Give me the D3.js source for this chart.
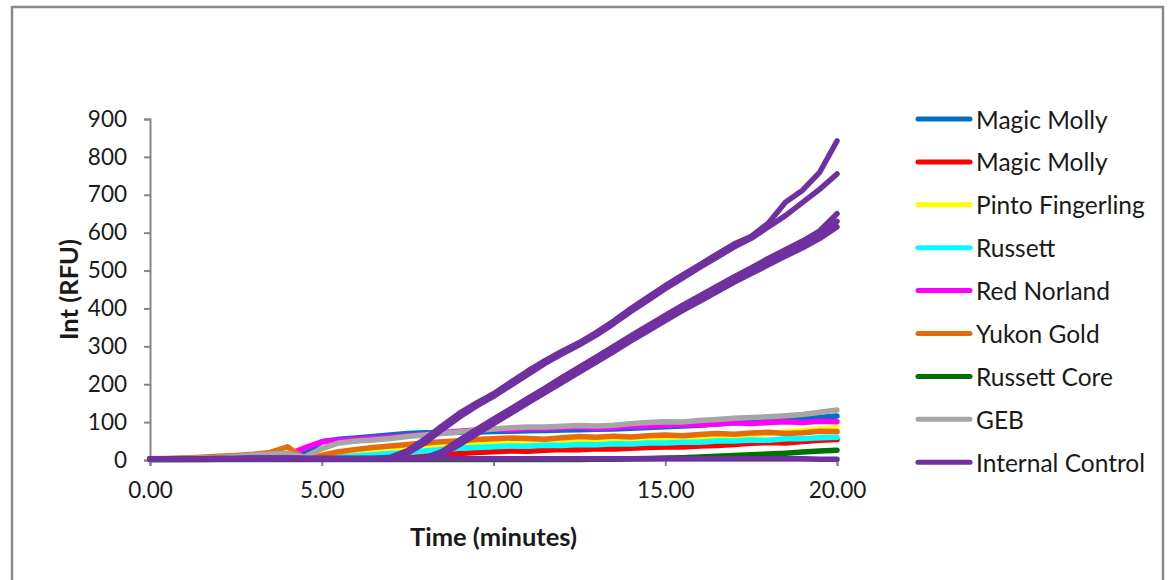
<!DOCTYPE html>
<html>
<head>
<meta charset="utf-8">
<script src="https://cdn.jsdelivr.net/npm/d3@7"></script>
<style>
  body { margin: 0; background: #fff; }
  text { font-family: Lato, "Open Sans", sans-serif; fill: #1a1a1a; }
</style>
</head>
<body>
<div class="chart"></div>
<script>
// Time points (minutes)
var times = [0, 0.5, 1, 1.5, 2, 2.5, 3, 3.5, 4, 4.5, 5, 5.5, 6, 6.5, 7, 7.5, 8, 8.5, 9, 9.5,
  10, 10.5, 11, 11.5, 12, 12.5, 13, 13.5, 14, 14.5, 15, 15.5, 16, 16.5, 17, 17.5, 18, 18.5, 19, 19.5, 20];

// Fluorescence traces (RFU), one value per time point
var magicMollyBlue = [3, 3, 4, 5, 6, 8, 10, 12, 14, 18, 48, 55, 58, 62, 66, 70, 72, 72, 73, 74,
  75, 76, 77, 78, 79, 80, 81, 82, 84, 86, 88, 90, 92, 95, 98, 100, 103, 106, 109, 112, 116];
var magicMollyRed = [1, 1, 1, 1, 2, 2, 2, 2, 2, 2, 2, 2, 3, 4, 6, 8, 11, 14, 17, 20,
  22, 24, 23, 26, 28, 27, 30, 29, 31, 33, 34, 34, 37, 38, 41, 44, 46, 45, 49, 52, 54];
var pintoFingerling = [2, 2, 3, 4, 5, 6, 8, 9, 10, 8, 15, 20, 25, 28, 31, 34, 37, 39, 41, 43,
  45, 46, 47, 48, 49, 50, 51, 52, 52, 53, 53, 55, 57, 60, 63, 66, 70, 74, 78, 82, 86];
var russett = [1, 1, 2, 2, 3, 3, 4, 4, 5, 3, 5, 8, 11, 14, 17, 20, 24, 28, 31, 33,
  35, 37, 36, 39, 38, 41, 40, 43, 42, 45, 45, 47, 47, 50, 50, 53, 52, 56, 56, 59, 60];
var redNorland = [2, 3, 3, 4, 6, 8, 10, 12, 14, 32, 48, 52, 55, 58, 61, 64, 67, 72, 76, 79,
  82, 80, 84, 83, 85, 87, 84, 86, 89, 90, 92, 94, 93, 95, 98, 96, 99, 101, 99, 102, 101];
var yukonGold = [3, 4, 5, 7, 10, 12, 15, 20, 35, 3, 12, 22, 28, 33, 37, 41, 45, 48, 51, 54,
  56, 58, 57, 55, 59, 62, 60, 63, 61, 64, 66, 64, 67, 70, 68, 71, 73, 70, 72, 76, 75];
var russettCore = [1, 1, 1, 1, 1, 1, 1, 1, 1, 1, 1, 1, 1, 1, 1, 1, 1, 1, 1, 1,
  1, 1, 1, 1, 1, 1, 2, 2, 3, 4, 5, 6, 8, 10, 12, 14, 16, 18, 21, 24, 26];
var geb = [3, 3, 4, 5, 7, 10, 13, 16, 18, 8, 30, 45, 50, 53, 57, 62, 66, 70, 74, 78,
  82, 85, 87, 87, 89, 91, 90, 92, 96, 99, 101, 100, 104, 107, 110, 112, 114, 117, 120, 126, 132];
var controlA = [2, 2, 3, 3, 4, 4, 5, 5, 5, 4, 4, 4, 4, 4, 7, 25, 55, 90, 123, 150,
  175, 205, 235, 262, 287, 310, 337, 367, 400, 430, 460, 488, 515, 543, 570, 590, 625, 680, 712, 760, 842];
var controlB = [2, 2, 3, 3, 4, 4, 5, 5, 5, 4, 4, 4, 4, 4, 5, 18, 45, 80, 113, 142,
  168, 197, 226, 255, 280, 304, 330, 360, 392, 422, 452, 480, 508, 535, 562, 585, 615, 645, 680, 715, 755];
var controlC = [3, 3, 3, 3, 3, 3, 3, 3, 3, 3, 3, 3, 3, 3, 3, 3, 5, 22, 52, 80,
  108, 135, 163, 190, 218, 245, 272, 300, 328, 355, 382, 408, 433, 458, 483, 507, 532, 555, 578, 605, 650];
var controlD = [3, 3, 3, 3, 3, 3, 3, 3, 3, 3, 3, 3, 3, 3, 3, 3, 4, 18, 46, 74,
  102, 129, 157, 184, 211, 238, 265, 292, 320, 347, 374, 400, 425, 450, 475, 498, 522, 545, 568, 595, 630];
var controlE = [3, 3, 3, 3, 3, 3, 3, 3, 3, 3, 3, 3, 3, 3, 3, 3, 3, 14, 40, 68,
  96, 123, 151, 178, 205, 232, 259, 286, 314, 341, 368, 394, 419, 444, 469, 492, 515, 538, 560, 585, 615];
var controlF = [3, 3, 3, 3, 3, 3, 3, 3, 4, 4, 4, 4, 4, 4, 4, 4, 4, 4, 3, 3,
  3, 3, 3, 3, 3, 3, 3, 3, 3, 3, 3, 3, 3, 3, 3, 3, 3, 3, 3, 2, 2];

var legendNames = ["Magic Molly", "Magic Molly", "Pinto Fingerling", "Russett", "Red Norland",
  "Yukon Gold", "Russett Core", "GEB", "Internal Control"];
var legendColors = ["#0070C0", "#FF0000", "#FFFF00", "#00FFFF", "#FF00FF",
  "#E46C0A", "#007000", "#A6A6A6", "#7030A0"];

var xTicks = [0, 5, 10, 15, 20];
var yTicks = [0, 100, 200, 300, 400, 500, 600, 700, 800, 900];

// traces in drawing order, with legend index for colour
var traces = [
  [magicMollyBlue, 0], [magicMollyRed, 1], [pintoFingerling, 2], [russett, 3],
  [redNorland, 4], [yukonGold, 5], [russettCore, 6], [geb, 7],
  [controlF, 8], [controlE, 8], [controlD, 8], [controlC, 8], [controlB, 8], [controlA, 8]
];

var svgWidth = 1168;
var svgHeight = 580;
var margin = { top: 119, left: 150 };
var width = 687;
var height = 341;

var svg = d3.select(".chart")
  .append("svg")
  .attr("width", svgWidth)
  .attr("height", svgHeight);

// outer frame
svg.append("rect")
  .attr("x", 12).attr("y", 7)
  .attr("width", 1151).attr("height", 600)
  .attr("fill", "none")
  .attr("stroke", "#8a8a8a")
  .attr("stroke-width", 2.5);

var chartGroup = svg.append("g")
  .attr("transform", `translate(${margin.left}, ${margin.top})`);

var x = d3.scaleLinear().domain([0, 20]).range([0, width]);
var y = d3.scaleLinear().domain([0, 900]).range([height, 0]);

// axes
var xAxis = chartGroup.append("g")
  .attr("transform", `translate(0, ${height})`)
  .call(d3.axisBottom(x).tickValues(xTicks).tickFormat(d3.format(".2f")).tickSizeOuter(0).tickSize(6).tickPadding(16));

var yAxis = chartGroup.append("g")
  .call(d3.axisLeft(y).tickValues(yTicks).tickSizeOuter(0).tickSize(6).tickPadding(17));

[xAxis, yAxis].forEach(function(a) {
  a.selectAll("path, line").attr("stroke", "#868686").attr("stroke-width", 2);
  a.selectAll("text").attr("font-size", 22.5).attr("fill", "#1a1a1a")
    .attr("font-family", "Lato, sans-serif");
});

// lines
var line = d3.line()
  .x((d, i) => x(times[i]))
  .y(d => y(d));

chartGroup.selectAll(".trace")
  .data(traces)
  .enter()
  .append("path")
  .attr("class", "trace")
  .attr("d", d => line(d[0]))
  .attr("fill", "none")
  .attr("stroke", d => legendColors[d[1]])
  .attr("stroke-width", 5.5)
  .attr("stroke-linejoin", "round")
  .attr("stroke-linecap", "round");

// axis titles
svg.append("text")
  .attr("x", margin.left + width / 2)
  .attr("y", 536)
  .attr("text-anchor", "middle")
  .attr("dominant-baseline", "central")
  .attr("font-size", 25.5)
  .attr("font-weight", "bold")
  .text("Time (minutes)");

svg.append("text")
  .attr("transform", `translate(68, ${margin.top + height / 2}) rotate(-90)`)
  .attr("text-anchor", "middle")
  .attr("dominant-baseline", "central")
  .attr("font-size", 25.5)
  .attr("font-weight", "bold")
  .text("Int (RFU)");

// legend
var legend = svg.append("g").attr("transform", "translate(916, 119)");
var rows = legend.selectAll("g")
  .data(legendNames)
  .enter()
  .append("g")
  .attr("transform", (d, i) => `translate(0, ${i * 42.9})`);

rows.append("line")
  .attr("x1", 2).attr("x2", 54)
  .attr("stroke", (d, i) => legendColors[i])
  .attr("stroke-width", 5)
  .attr("stroke-linecap", "round");

rows.append("text")
  .attr("x", 60)
  .attr("dominant-baseline", "central")
  .attr("font-size", 24.5)
  .text(d => d);
</script>
</body>
</html>
